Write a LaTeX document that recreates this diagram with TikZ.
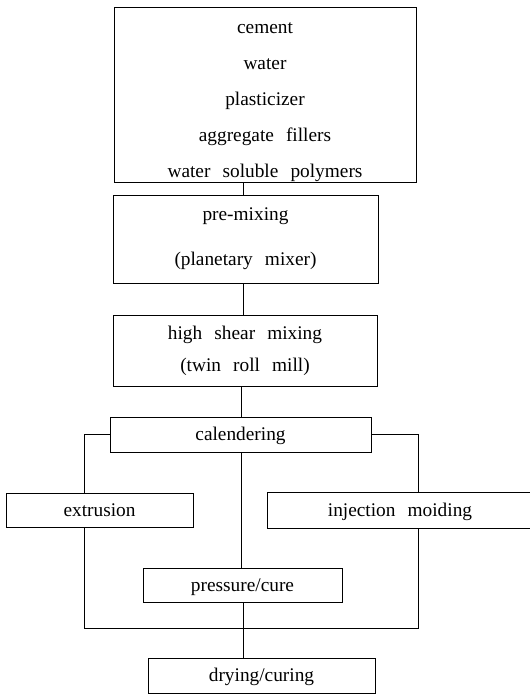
\documentclass[tikz,border=0pt]{standalone}
\usepackage{fontspec}
\setmainfont[WordSpace=2.5]{Liberation Serif}
\usetikzlibrary{positioning}

\tikzset{every picture/.style={line width=0.6pt}}
\tikzset{
  procbox/.style={draw, rectangle, inner sep=0pt, align=center,
    font=\fontsize{14.5}{26}\selectfont},
  onebox/.style={procbox, text height=11pt, text depth=2pt},
  flowline/.style={draw, line width=0.7pt}
}

\begin{document}
\begin{tikzpicture}[x=0.75pt,y=0.75pt,yscale=-1,xscale=1]
	\useasboundingbox (0,0) rectangle (530,696);

	%Shape: Rectangle [materials]
	\node (mats) [procbox, minimum width=226.5pt, minimum height=131.25pt] at (265,94.5)
	  {\rule{0pt}{19pt}cement\\[1pt] water\\[1pt] plasticizer\\[1pt] aggregate fillers\\[1pt] water soluble polymers};
	%Shape: Rectangle [pre-mixing]
	\node (premix) [procbox, minimum width=198.75pt, minimum height=66pt] at (245.5,239)
	  {pre-mixing\\[8pt] (planetary mixer)};
	%Shape: Rectangle [high shear]
	\node (shear) [procbox, minimum width=198pt, minimum height=53.25pt] at (245,350.5)
	  {high shear mixing\\[-2pt] (twin roll mill)};
	%Shape: Rectangle [calendering]
	\node (cal) [onebox, minimum width=195.75pt, minimum height=26.25pt] at (240.5,434.5) {calendering};
	%Shape: Rectangle [extrusion]
	\node (extr) [onebox, minimum width=140.25pt, minimum height=25.5pt] at (99.5,510) {extrusion};
	%Shape: Rectangle [injection]
	\node (inj) [onebox, minimum width=199.5pt, minimum height=27pt] at (400,510) {injection moiding};
	%Shape: Rectangle [pressure]
	\node (press) [onebox, minimum width=149.25pt, minimum height=25.5pt] at (242.5,585) {pressure/cure};
	%Shape: Rectangle [drying]
	\node (dry) [onebox, minimum width=170.25pt, minimum height=26.25pt] at (261.5,675.5) {drying/curing};

	\coordinate (lbus) at (84,628);
	\coordinate (rbus) at (418,628);

	%Straight Lines
	\draw [flowline] (243,0 |- mats.south) -- (243,0 |- premix.north);
	\draw [flowline] (243,0 |- premix.south) -- (243,0 |- shear.north);
	\draw [flowline] (241,0 |- shear.south) -- (241,0 |- cal.north);
	\draw [flowline] (cal.west) -| (lbus |- extr.north);
	\draw [flowline] (cal.east) -| (rbus |- inj.north);
	\draw [flowline] (241,0 |- cal.south) -- (241,0 |- press.north);
	\draw [flowline] (lbus |- extr.south) -- (lbus) -- (rbus) -- (rbus |- inj.south);
	\draw [flowline] (243,0 |- press.south) -- (243,0 |- dry.north);
\end{tikzpicture}
\end{document}
